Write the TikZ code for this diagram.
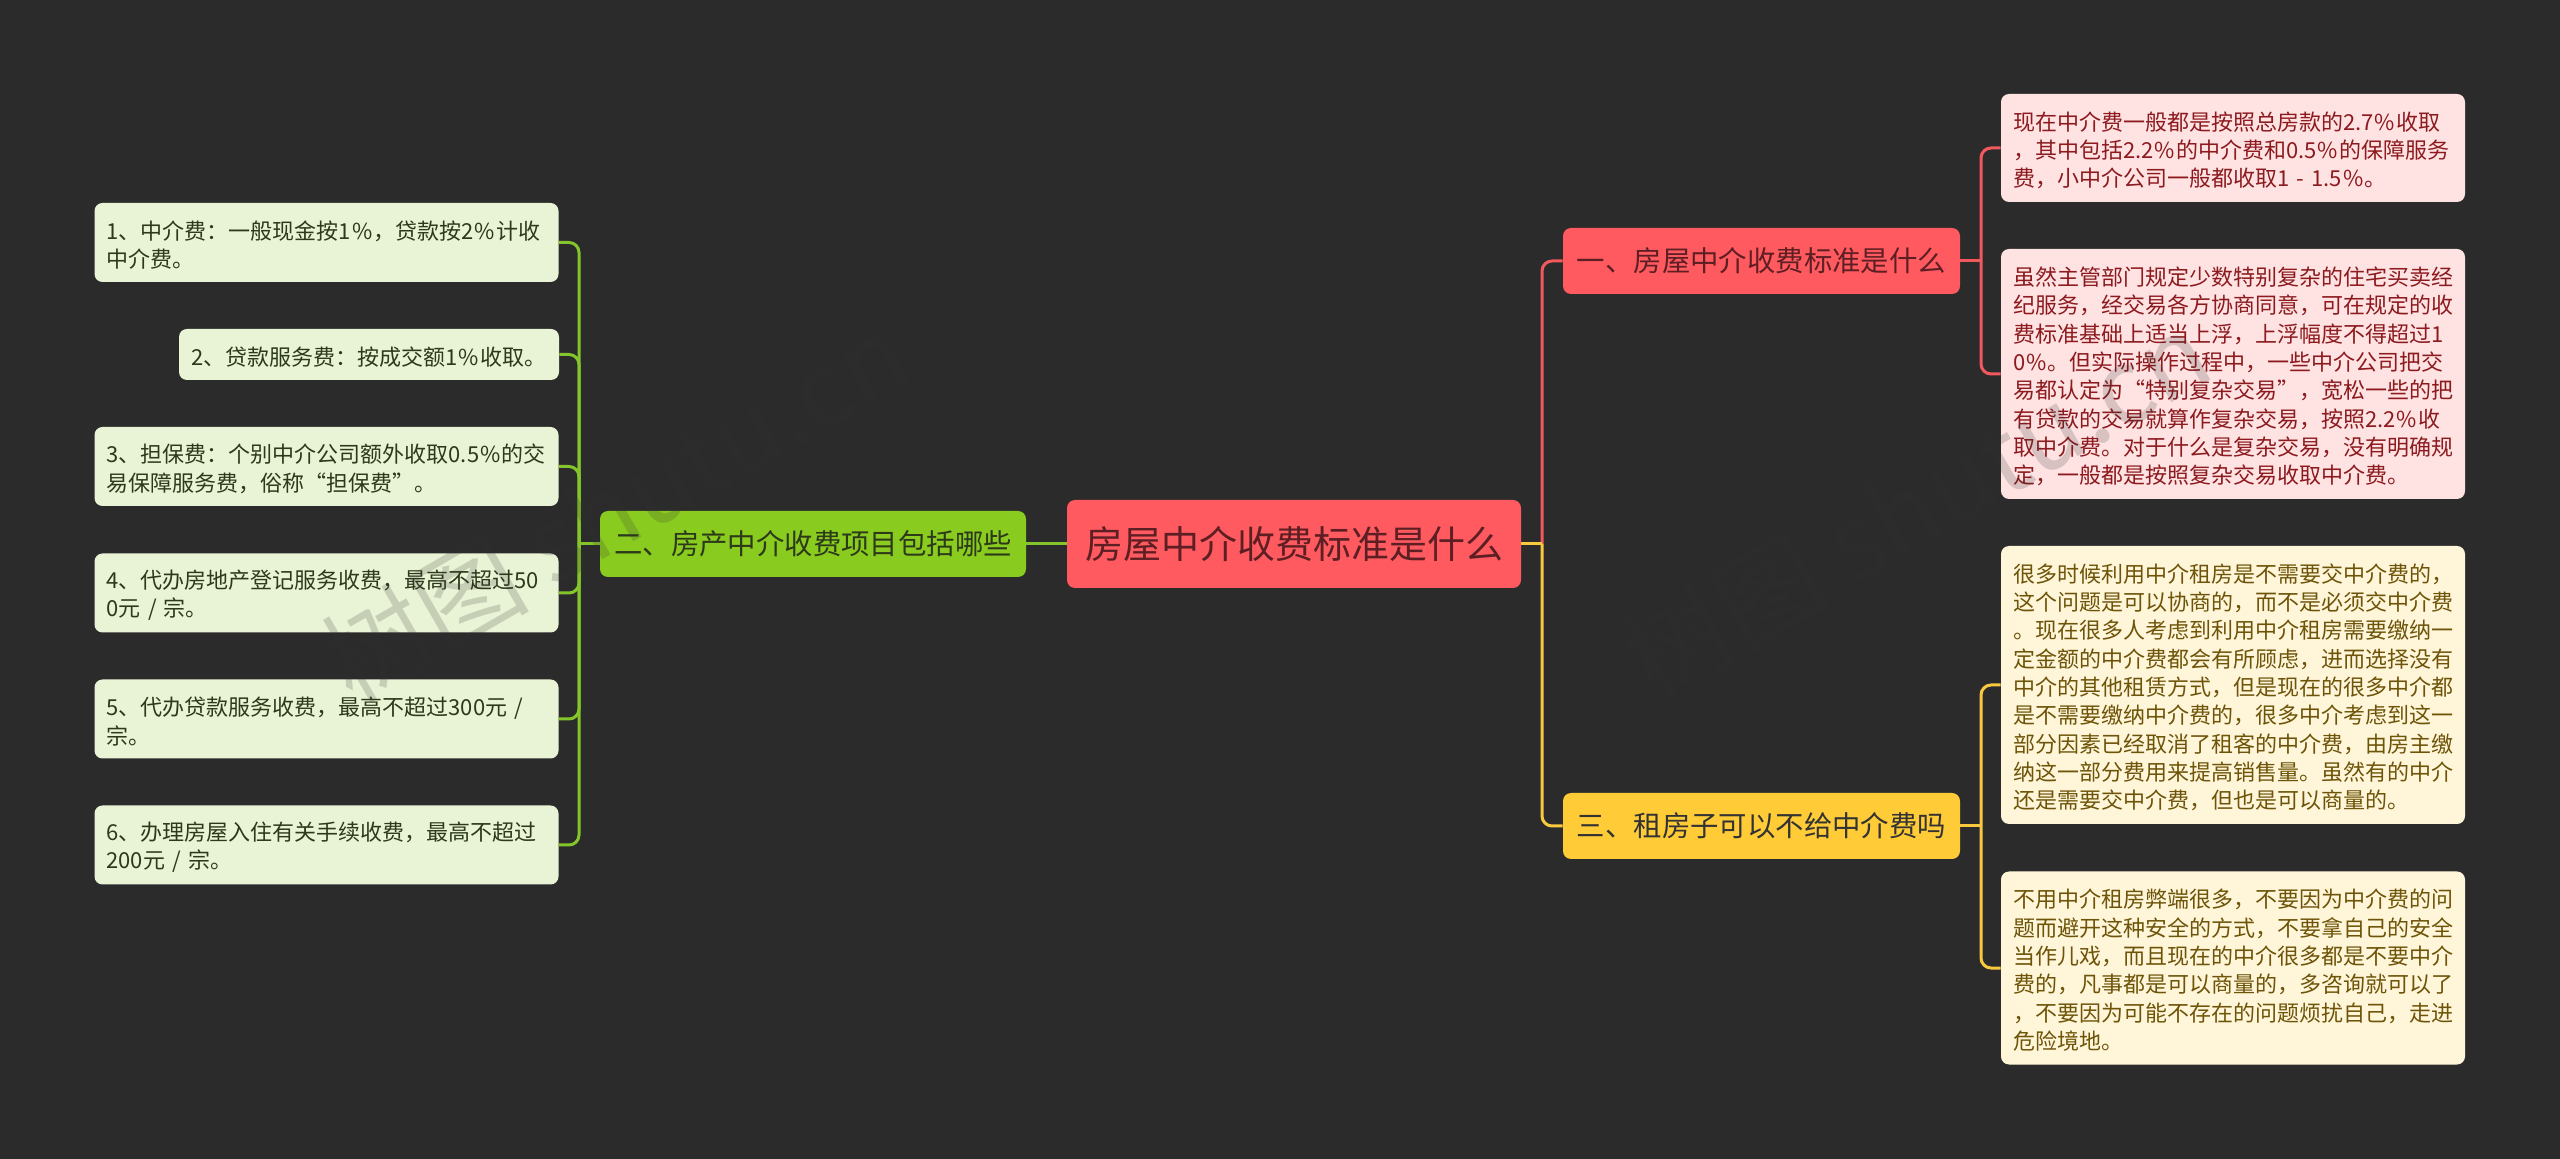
\documentclass[tikz,border=0pt]{standalone}
\usepackage{fontspec}
\setmainfont{Noto Sans CJK SC}
\usetikzlibrary{positioning}
\definecolor{bgdark}{HTML}{2B2B2B}
\definecolor{rootred}{HTML}{FF5A5F}
\definecolor{subyellow}{HTML}{FFCB37}
\definecolor{subgreen}{HTML}{8ACB20}
\definecolor{lineyellow}{HTML}{F8C93E}
\definecolor{linered}{HTML}{F2595E}
\definecolor{linegreen}{HTML}{84C52B}
\definecolor{leafpink}{HTML}{FFE3E3}
\definecolor{leafcream}{HTML}{FFF6DA}
\definecolor{leafgreen}{HTML}{E9F3D5}
\definecolor{textred}{HTML}{8C1A1E}
\definecolor{textbrown}{HTML}{6E5408}
\definecolor{textgreen}{HTML}{2C3A1A}
\definecolor{textroot}{HTML}{5E1F24}
\newcommand{\pct}{\kern.6pt\%\kern.6pt}
\tikzset{box/.style={rounded corners=4pt,inner sep=0pt,align=left},
rootnode/.style={box,fill=rootred,text=textroot,font=\fontsize{19}{24}\selectfont,minimum width=227pt,minimum height=44pt,align=center},
subnode/.style={box,font=\fontsize{14.2}{18}\selectfont,minimum height=33pt,align=center},
leafnode/.style={box,font=\fontsize{11}{14.17}\selectfont,text width=220pt,inner xsep=6pt,execute at begin node={\rule{0pt}{11.7pt}}},
redleaf/.style={leafnode,fill=leafpink,text=textred},
yellowleaf/.style={leafnode,fill=leafcream,text=textbrown},
greenleaf/.style={leafnode,fill=leafgreen,text=textgreen},
linkred/.style={draw=linered,line width=1.5pt,rounded corners=5pt},
linkyellow/.style={draw=lineyellow,line width=1.5pt,rounded corners=5pt},
linkgreen/.style={draw=linegreen,line width=1.5pt,rounded corners=5pt},
stampnode/.style={font=\fontsize{52}{60}\selectfont,text=black!80,text opacity=.19,rotate=30}}
\begin{document}
\begin{tikzpicture}[x=0.5pt,y=-0.5pt]

% Background
\fill[bgdark] (0,0) rectangle (2560,1159);
\useasboundingbox (0,0) rectangle (2560,1159);

% Root and main branches
\node[rootnode] (root) at (1294,544) {房屋中介收费标准是什么};
\node[subnode,fill=rootred,text=textroot,minimum width=198.5pt] (subred) at (1761.5,261) {一、房屋中介收费标准是什么};
\node[subnode,fill=subyellow,text=black!80,minimum width=198.5pt] (subyel) at (1761.5,826) {三、租房子可以不给中介费吗};
\node[subnode,fill=subgreen,text=textgreen,minimum width=213pt] (subgrn) at (813,544) {二、房产中介收费项目包括哪些};

% Right leaves
\node[redleaf,minimum height=54pt] (rl1) at (2233,148) {现在中介费一般都是按照总房款的2.7\pct 收取\\，其中包括2.2\pct 的中介费和0.5\pct 的保障服务\\费，小中介公司一般都收取1 - 1.5\pct 。};
\node[redleaf,minimum height=125pt] (rl2) at (2233,374) {虽然主管部门规定少数特别复杂的住宅买卖经\\纪服务，经交易各方协商同意，可在规定的收\\费标准基础上适当上浮，上浮幅度不得超过1\\0\pct 。但实际操作过程中，一些中介公司把交\\易都认定为“特别复杂交易”，宽松一些的把\\有贷款的交易就算作复杂交易，按照2.2\pct 收\\取中介费。对于什么是复杂交易，没有明确规\\定，一般都是按照复杂交易收取中介费。};
\node[yellowleaf,minimum height=139pt] (yl1) at (2233,685) {很多时候利用中介租房是不需要交中介费的，\\这个问题是可以协商的，而不是必须交中介费\\。现在很多人考虑到利用中介租房需要缴纳一\\定金额的中介费都会有所顾虑，进而选择没有\\中介的其他租赁方式，但是现在的很多中介都\\是不需要缴纳中介费的，很多中介考虑到这一\\部分因素已经取消了租客的中介费，由房主缴\\纳这一部分费用来提高销售量。虽然有的中介\\还是需要交中介费，但也是可以商量的。};
\node[yellowleaf,minimum height=96.5pt] (yl2) at (2233,968) {不用中介租房弊端很多，不要因为中介费的问\\题而避开这种安全的方式，不要拿自己的安全\\当作儿戏，而且现在的中介很多都是不要中介\\费的，凡事都是可以商量的，多咨询就可以了\\，不要因为可能不存在的问题烦扰自己，走进\\危险境地。};

% Left leaves
\node[greenleaf,minimum height=39.5pt] (gl1) at (326.5,242.5) {1、中介费：一般现金按1\pct ，贷款按2\pct 计收\\中介费。};
\node[greenleaf,text width=178pt,minimum height=25.5pt] (gl2) at (369,354.5) {2、贷款服务费：按成交额1\pct 收取。};
\node[greenleaf,minimum height=39.5pt] (gl3) at (326.5,466.5) {3、担保费：个别中介公司额外收取0.5\pct 的交\\易保障服务费，俗称“担保费”。};
\node[greenleaf,minimum height=39.5pt] (gl4) at (326.5,593) {4、代办房地产登记服务收费，最高不超过50\\0元 / 宗。};
\node[greenleaf,minimum height=39.5pt] (gl5) at (326.5,719) {5、代办贷款服务收费，最高不超过300元 / \\宗。};
\node[greenleaf,minimum height=39.5pt] (gl6) at (326.5,845) {6、办理房屋入住有关手续收费，最高不超过\\200元 / 宗。};

% Junctions
\coordinate (rootj) at (1542,544);
\coordinate (redj) at (1981,261);
\coordinate (yelj) at (1981,826);
\coordinate (grnj) at (579,544);

% Connectors
\draw[linkred] (rootj) |- (subred.west);
\draw[linkyellow] (rootj) |- (subyel.west);
\draw[linkyellow] (root.east) -- (rootj);
\draw[linkred] (subred.east) -- (redj);
\foreach \x in {1,2} \draw[linkred] (redj) |- (rl\x.west);
\draw[linkyellow] (subyel.east) -- (yelj);
\foreach \x in {1,2} \draw[linkyellow] (yelj) |- (yl\x.west);
\draw[linkgreen] (root.west) -- (subgrn.east);
\draw[linkgreen] (subgrn.west) -- (grnj);
\foreach \x in {1,2,3,4,5,6} \draw[linkgreen] (grnj) |- (gl\x.east);

% Watermarks
\node[stampnode] (stampl) at (615,507) {树图 shutu.cn};
\node[stampnode] (stampr) at (1916,505) {树图 shutu.cn};

\end{tikzpicture}
\end{document}
